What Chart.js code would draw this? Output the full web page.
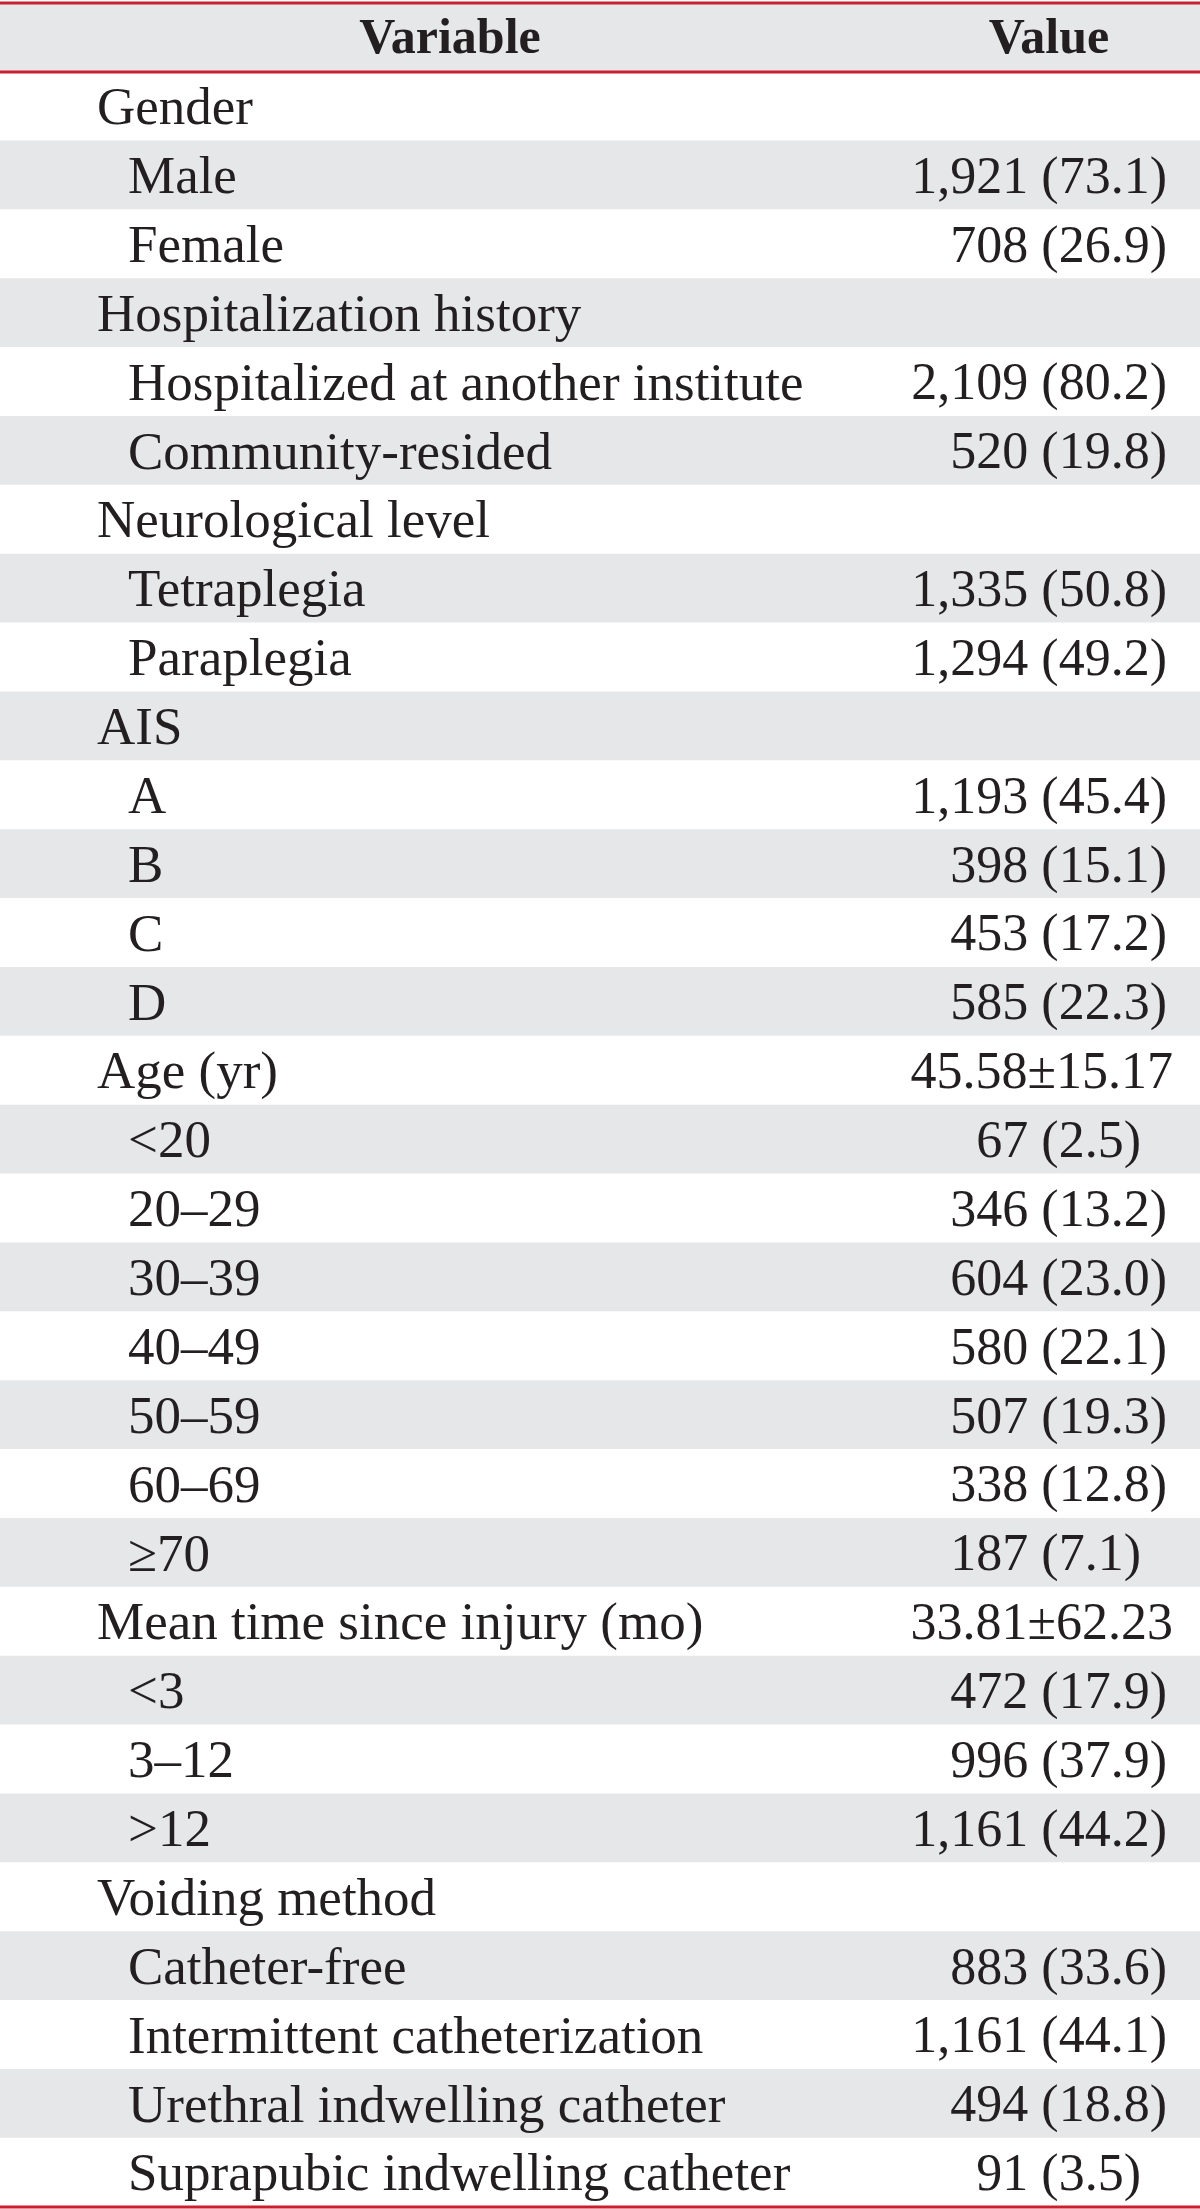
<!DOCTYPE html>
<html>
<head>
<meta charset="utf-8">
<script src="https://cdn.jsdelivr.net/npm/chart.js@4"></script>
<style>
  html, body { margin: 0; padding: 0; background: #fff; }
  canvas { display: block; }
</style>
</head>
<body>
<canvas id="patientTable" width="1200" height="2209"></canvas>
<script>
var columnHeaders = ['Variable', 'Value'];

var rowLabels = ['Gender', 'Male', 'Female',
  'Hospitalization history', 'Hospitalized at another institute', 'Community-resided',
  'Neurological level', 'Tetraplegia', 'Paraplegia',
  'AIS', 'A', 'B', 'C', 'D',
  'Age (yr)', '<20', '20–29', '30–39', '40–49', '50–59', '60–69', '≥70',
  'Mean time since injury (mo)', '<3', '3–12', '>12',
  'Voiding method', 'Catheter-free', 'Intermittent catheterization', 'Urethral indwelling catheter', 'Suprapubic indwelling catheter'];

var rowValues = ['', '1,921 (73.1)', '708 (26.9)',
  '', '2,109 (80.2)', '520 (19.8)',
  '', '1,335 (50.8)', '1,294 (49.2)',
  '', '1,193 (45.4)', '398 (15.1)', '453 (17.2)', '585 (22.3)',
  '45.58±15.17', '67 (2.5)', '346 (13.2)', '604 (23.0)', '580 (22.1)', '507 (19.3)', '338 (12.8)', '187 (7.1)',
  '33.81±62.23', '472 (17.9)', '996 (37.9)', '1,161 (44.2)',
  '', '883 (33.6)', '1,161 (44.1)', '494 (18.8)', '91 (3.5)'];

// true = indented sub-row under a group heading
var subRow = [false, true, true,
  false, true, true,
  false, true, true,
  false, true, true, true, true,
  false, true, true, true, true, true, true, true,
  false, true, true, true,
  false, true, true, true, true];

var redColor = '#c8202f';
var stripeColor = '#e6e7e9';
var textColor = '#231f20';
var fontFamily = '"Liberation Serif", "Times New Roman", serif';

var allRows = [columnHeaders[0]].concat(rowLabels);

var tableText = {
  id: 'tableText',
  afterDatasetsDraw: function(chart) {
    var ctx = chart.ctx;
    var y = chart.scales.y;
    var area = chart.chartArea;
    var rowH = y.getPixelForValue(1) - y.getPixelForValue(0);

    ctx.save();
    ctx.fillStyle = textColor;
    ctx.textBaseline = 'middle';

    // header
    ctx.font = 'bold 50px ' + fontFamily;
    ctx.textAlign = 'center';
    var hy = y.getPixelForValue(0) + 3;
    ctx.fillText(columnHeaders[0], area.left + 450, hy);
    ctx.fillText(columnHeaders[1], area.left + 1049, hy);

    for (var i = 0; i < rowLabels.length; i++) {
      var cy = y.getPixelForValue(i + 1) + 4;
      ctx.font = '53px ' + fontFamily;
      ctx.textAlign = 'left';
      ctx.fillText(rowLabels[i], area.left + (subRow[i] ? 128 : 97), cy);
      if (rowValues[i]) {
        ctx.font = '52px ' + fontFamily;
        ctx.textAlign = 'right';
        var right = area.left + 1167;
        // single-digit percentages keep the digit column aligned
        if (/\(\d\.\d\)$/.test(rowValues[i])) right -= ctx.measureText('0').width;
        if (rowValues[i].indexOf('±') >= 0) right += 6;
        ctx.fillText(rowValues[i], right, cy);
      }
    }

    // red rules
    ctx.strokeStyle = redColor;
    ctx.lineWidth = 3;
    var top = y.getPixelForValue(0) - rowH / 2;
    var bottom = y.getPixelForValue(allRows.length - 1) + rowH / 2;
    [top, top + rowH, bottom].forEach(function(ly) {
      ctx.beginPath();
      ctx.moveTo(area.left, ly);
      ctx.lineTo(area.right, ly);
      ctx.stroke();
    });
    ctx.restore();
  }
};

new Chart(document.getElementById('patientTable').getContext('2d'), {
  type: 'bar',
  data: {
    labels: allRows,
    datasets: [{
      data: allRows.map(function() { return 1; }),
      backgroundColor: allRows.map(function(r, i) { return i % 2 === 0 ? stripeColor : '#ffffff'; }),
      borderWidth: 0,
      barPercentage: 1,
      categoryPercentage: 1
    }]
  },
  options: {
    indexAxis: 'y',
    responsive: false,
    animation: false,
    layout: { padding: { top: 3, bottom: 2, left: 0, right: 0 } },
    plugins: {
      legend: { display: false },
      tooltip: { enabled: false }
    },
    scales: {
      x: { display: false, min: 0, max: 1 },
      y: { display: false }
    }
  },
  plugins: [tableText]
});
</script>
</body>
</html>
